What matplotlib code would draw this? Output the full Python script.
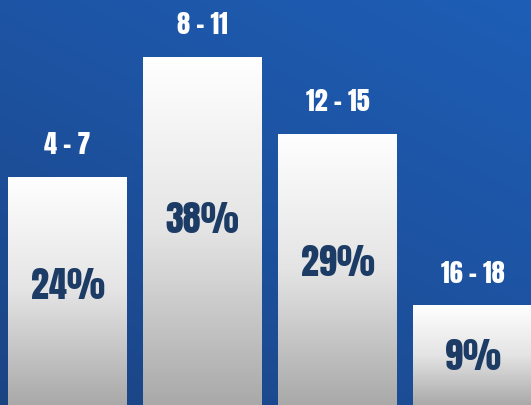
import numpy as np
import matplotlib.pyplot as plt
from matplotlib.colors import LinearSegmentedColormap

# données
groupes = ["4 - 7", "8 - 11", "12 - 15", "16 - 18"]
valeurs = [24, 38, 29, 9]

FONT = ["Anton", "DejaVu Sans"]
NAVY = "#1c3c66"

fig = plt.figure(figsize=(5.31, 4.06), dpi=100)
ax = fig.add_axes([0, 0, 1, 1])

x = np.arange(len(groupes))
width = 0.88
xlim = (-0.5, 3.43)   # la dernière barre touche le bord droit
ylim = (-2.6, 44.7)

# fond bleu en dégradé (sombre en haut à gauche, plus clair en bas à droite)
gx, gy = np.meshgrid(np.linspace(0, 1, 200), np.linspace(0, 1, 160))
g = 0.4 * gx + 0.6 * gy
bg = LinearSegmentedColormap.from_list("bg", ["#1b4483", "#1d52a0", "#1e5eb6"])
ax.imshow(g, cmap=bg, extent=[*xlim, ylim[1], ylim[0]], aspect="auto",
          origin="upper", zorder=0)

# barres en dégradé blanc -> gris
grad = LinearSegmentedColormap.from_list("bar", ["#ffffff", "#e4e4e4", "#a9a9a9"])
col = np.linspace(0, 1, 256).reshape(-1, 1)
bars = ax.bar(x, [v - ylim[0] for v in valeurs], bottom=ylim[0], width=width,
              color="none", edgecolor="none", zorder=1)
for b, v in zip(bars, valeurs):
    x0 = b.get_x()
    im = ax.imshow(col, cmap=grad, aspect="auto", origin="upper",
                   extent=[x0, x0 + width, ylim[0], v], zorder=2)
    im.set_clip_path(b)

for xi, v, lab in zip(x, valeurs, groupes):
    ax.annotate(lab, (xi, v), xytext=(0, 15), textcoords="offset points",
                ha="center", va="bottom", color="white", fontsize=19,
                family=FONT, zorder=3)
    ax.text(xi, 0.55 * v - 1.8, f"{v}%", ha="center", va="center", color=NAVY,
            fontsize=26, family=FONT, zorder=3)

ax.set_xlim(*xlim)
ax.set_ylim(*ylim)
ax.axis("off")
fig.savefig("out.png", dpi=100)
